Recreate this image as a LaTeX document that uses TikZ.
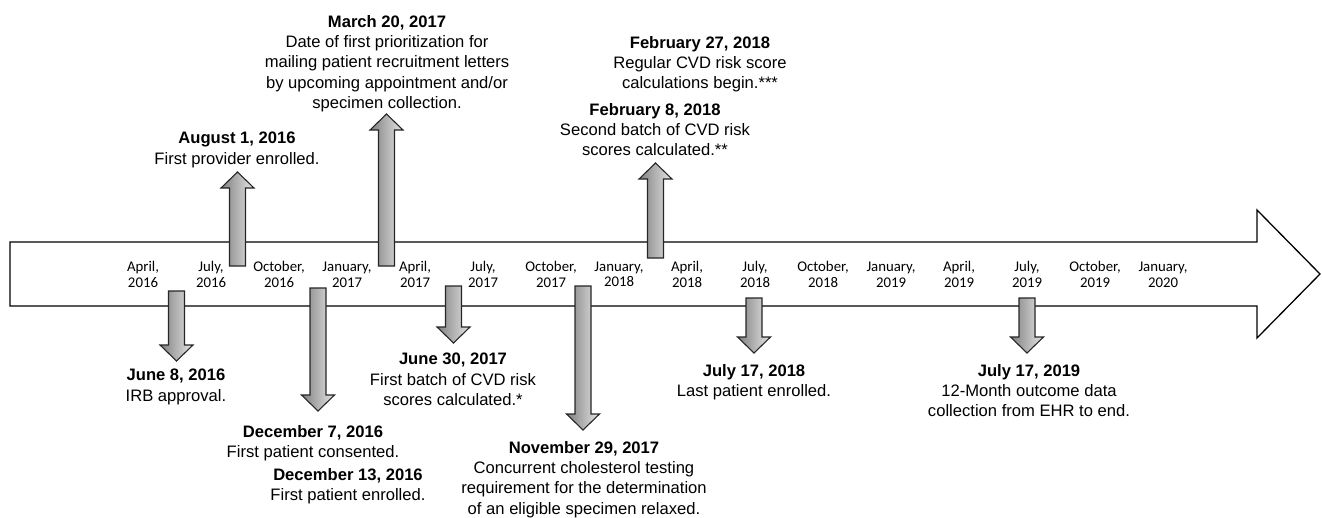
\documentclass[tikz,border=0pt]{standalone}
\usepackage{fontspec}
\setmainfont{Liberation Sans}
\newfontfamily\monthfont{Carlito}
\usepackage{tikz}
\usetikzlibrary{positioning}

\begin{document}
\begin{tikzpicture}[x=1pt,y=-1pt,
		bigarrow/.style={draw=black,line width=1.3pt,fill=white},
		blockarr/.style={draw=black!85,line width=1.1pt,left color=black!50,right color=black!10},
		monthlbl/.style={align=center,inner sep=0pt,font=\monthfont\fontsize{14.8}{15.6}\selectfont},
		eventlbl/.style={align=center,inner sep=0pt,anchor=north,font=\fontsize{16.6}{20.3}\selectfont}]
		\useasboundingbox (0,0) rectangle (1322,517);
		
		% timeline
		\draw[bigarrow] (10,242) -- (1257,242) -- (1257,210) -- (1320,274) -- (1257,338) -- (1257,306) -- (10,306) -- cycle;
		\coordinate (timeline) at (10,274);
		
		\node[monthlbl] (apr16) at (143,274.5) {April,\\2016};
		\node[monthlbl] (jul16) at (211,274.5) {July,\\2016};
		\node[monthlbl] (oct16) at (279,274.5) {October,\\2016};
		\node[monthlbl] (jan17) at (347,274.5) {January,\\2017};
		\node[monthlbl] (apr17) at (415,274.5) {April,\\2017};
		\node[monthlbl] (jul17) at (483,274.5) {July,\\2017};
		\node[monthlbl] (oct17) at (551,274.5) {October,\\2017};
		\node[monthlbl] (jan18) at (619,274.5) {January,\\2018};
		\node[monthlbl] (apr18) at (687,274.5) {April,\\2018};
		\node[monthlbl] (jul18) at (755,274.5) {July,\\2018};
		\node[monthlbl] (oct18) at (823,274.5) {October,\\2018};
		\node[monthlbl] (jan19) at (891,274.5) {January,\\2019};
		\node[monthlbl] (apr19) at (959,274.5) {April,\\2019};
		\node[monthlbl] (jul19) at (1027,274.5) {July,\\2019};
		\node[monthlbl] (oct19) at (1095,274.5) {October,\\2019};
		\node[monthlbl] (jan20) at (1163,274.5) {January,\\2020};
		
		% arrows above the line
		\draw[blockarr] (229.5,266) -- (229.5,188) -- (221,188) -- (237.5,172) -- (254,188) -- (245.5,188) -- (245.5,266) -- cycle;
		\draw[blockarr] (378.5,266) -- (378.5,130) -- (370,130) -- (386.5,114) -- (403,130) -- (394.5,130) -- (394.5,266) -- cycle;
		\draw[blockarr] (647.5,258) -- (647.5,179) -- (639,179) -- (655.5,163) -- (672,179) -- (663.5,179) -- (663.5,258) -- cycle;
		
		% arrows below the line
		\draw[blockarr] (168.5,291) -- (168.5,345) -- (160,345) -- (176.5,361) -- (193,345) -- (184.5,345) -- (184.5,291) -- cycle;
		\draw[blockarr] (310,288) -- (310,395) -- (301.5,395) -- (318,411) -- (334.5,395) -- (326,395) -- (326,288) -- cycle;
		\draw[blockarr] (445.5,286) -- (445.5,327) -- (437,327) -- (453.5,343) -- (470,327) -- (461.5,327) -- (461.5,286) -- cycle;
		\draw[blockarr] (575,286) -- (575,414) -- (566.5,414) -- (583,430) -- (599.5,414) -- (591,414) -- (591,286) -- cycle;
		\draw[blockarr] (746,298) -- (746,337) -- (737.5,337) -- (754,353) -- (770.5,337) -- (762,337) -- (762,298) -- cycle;
		\draw[blockarr] (1019,298) -- (1019,337) -- (1010.5,337) -- (1027,353) -- (1043.5,337) -- (1035,337) -- (1035,298) -- cycle;
		
		\node[eventlbl] (mar17) at (387,15) {\textbf{March 20, 2017}\\Date of first prioritization for\\mailing patient recruitment letters\\by upcoming appointment and/or\\specimen collection.};
		\node[eventlbl] (aug16) at (237,132) {\textbf{August 1, 2016}\\First provider enrolled.};
		\node[eventlbl] (feb27) at (700,36) {\textbf{February 27, 2018}\\Regular CVD risk score\\calculations begin.***};
		\node[eventlbl] (feb8) at (655,103) {\textbf{February 8, 2018}\\Second batch of CVD risk\\scores calculated.**};
		
		\node[eventlbl] (jun8) at (176,369) {\textbf{June 8, 2016}\\IRB approval.};
		\node[eventlbl] (dec7) at (313,425) {\textbf{December 7, 2016}\\First patient consented.};
		\node[eventlbl] (dec13) at (348,468) {\textbf{December 13, 2016}\\First patient enrolled.};
		\node[eventlbl] (jun30) at (453,353) {\textbf{June 30, 2017}\\First batch of CVD risk\\scores calculated.*};
		\node[eventlbl] (nov29) at (584,441) {\textbf{November 29, 2017}\\Concurrent cholesterol testing\\requirement for the determination\\of an eligible specimen relaxed.};
		\node[eventlbl] (jul17a) at (754,364) {\textbf{July 17, 2018}\\Last patient enrolled.};
		\node[eventlbl] (jul17b) at (1029,364) {\textbf{July 17, 2019}\\12-Month outcome data\\collection from EHR to end.};

	\end{tikzpicture}
\end{document}
